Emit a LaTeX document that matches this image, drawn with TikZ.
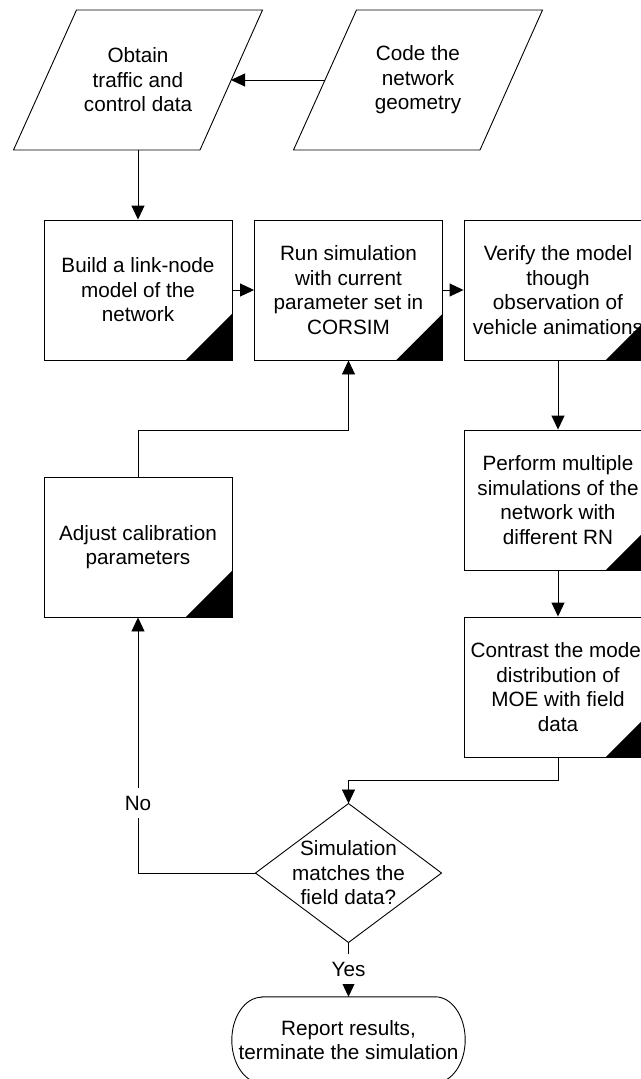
\documentclass[tikz,border=0pt]{standalone}
\usepackage{fontspec}
\setmainfont{Liberation Sans}
\usetikzlibrary{arrows.meta,calc}
\begin{document}
\begin{tikzpicture}[x=1pt,y=-1pt,
  line/.style={draw=black,line width=0.9pt},
  arr/.style={line,-{Triangle[length=14pt,width=13pt]}},
  txt/.style={align=center,font=\fontsize{20.7}{24.5}\selectfont,inner sep=0pt},
  box/.style={txt,line,fill=white,minimum width=188pt,minimum height=140pt},
  lbl/.style={txt,fill=white,inner xsep=3pt,inner ysep=8pt},
  corner/.style={fill=black}]
\useasboundingbox (0,0) rectangle (640,1079);

% parallelograms (input)
\node[txt] (p1) at (138,80) {Obtain\\traffic and\\control data};
\node[txt] (p2) at (418,80) {Code the\\network\\geometry};
\draw[line] ($(p1.center)+(-61.5,-70)$) -- ($(p1.center)+(124.5,-70)$) -- ($(p1.center)+(62,70)$) -- ($(p1.center)+(-124.5,70)$) -- cycle;
\draw[line] ($(p2.center)+(-61.5,-70)$) -- ($(p2.center)+(124.5,-70)$) -- ($(p2.center)+(62,70)$) -- ($(p2.center)+(-124.5,70)$) -- cycle;
\coordinate (p1e) at ($(p1.center)+(93,0)$);
\coordinate (p1s) at ($(p1.center)+(0,70)$);
\coordinate (p2w) at ($(p2.center)+(-93,0)$);

% process boxes
\node[box] (b1) at (138,290) {Build a link-node\\model of the\\network};
\node[box] (b2) at (348.5,290) {Run simulation\\with current\\parameter set in\\CORSIM};
\node[box] (b3) at (558,290) {Verify the model\\though\\observation of\\vehicle animations};
\node[box] (b4) at (558,500) {Perform multiple\\simulations of the\\network with\\different RN};
\node[box] (b5) at (558,687) {Contrast the model\\distribution of\\MOE with field\\data};
\node[box] (adj) at (138,547) {Adjust calibration\\parameters};
\foreach \b in {b1,b2,b3,b4,b5,adj}
  \fill[corner] (\b.south east) -- ++(-47,0) -- ++(47,-47) -- cycle;

% decision
\node[txt] (dia) at (348.5,873) {Simulation\\matches the\\field data?};
\coordinate (diaT) at ($(dia.center)+(0,-69.5)$);
\coordinate (diaB) at ($(dia.center)+(0,69.5)$);
\coordinate (diaL) at ($(dia.center)+(-93,0)$);
\coordinate (diaR) at ($(dia.center)+(93,0)$);
\draw[line] (diaT) -- (diaR) -- (diaB) -- (diaL) -- cycle;

% terminator
\node[txt,minimum width=233pt,minimum height=86pt] (term) at (348.5,1040) {Report results,\\terminate the simulation};
\draw[line] ($(term.north west)+(30,0)$) -- ($(term.north east)+(-30,0)$)
  arc[start angle=90,end angle=-90,x radius=30pt,y radius=43pt]
  -- ($(term.south west)+(30,0)$)
  arc[start angle=270,end angle=90,x radius=30pt,y radius=43pt] -- cycle;

% junction coordinates
\coordinate (loop) at (348.5,430);
\coordinate (join) at (348.5,780);

% connectors
\draw[arr] (p2w) -- (p1e);
\draw[arr] (p1s) -- (b1.north);
\draw[arr] (b1.east) -- (b2.west);
\draw[arr] (b2.east) -- (b3.west);
\draw[arr] (b3.south) -- (b4.north);
\draw[arr] (b4.south) -- (b5.north);
\draw[arr] (b5.south) |- (join) -- (diaT);
\draw[arr] (adj.north) |- (loop) -- (b2.south);
\draw[arr] (diaL) -| (adj.south);
\draw[arr] (diaB) -- (term.north);

% labels
\node[lbl] (no) at (138,803) {No};
\node[lbl] (yes) at (348.5,969) {Yes};
\end{tikzpicture}
\end{document}
